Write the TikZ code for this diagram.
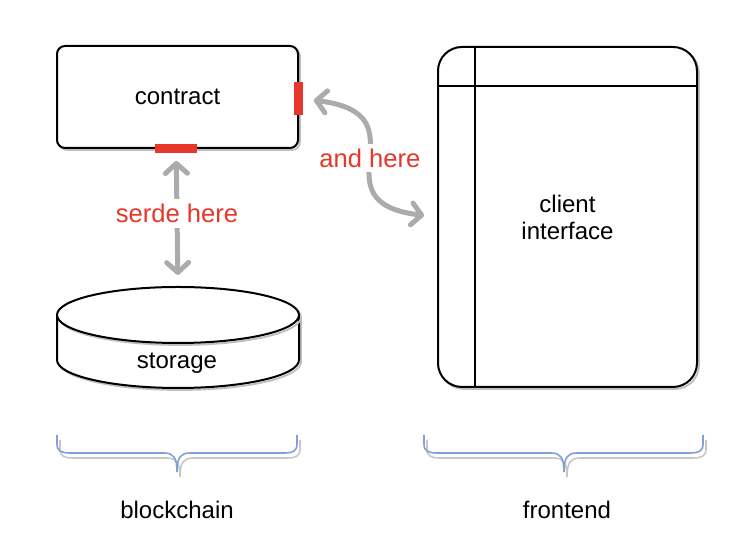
\documentclass[tikz,border=0pt]{standalone}
\usepackage{fontspec}
\setmainfont{Liberation Sans}
\usepackage{xcolor}
\usepackage{tikz}
\usetikzlibrary{positioning,arrows.meta}
\definecolor{inkred}{HTML}{E6372A}
\definecolor{inkgray}{HTML}{ABABAB}
\definecolor{inkblue}{HTML}{7FA0DA}

\begin{document}
\begin{tikzpicture}[
  x=0.5pt, y=-0.5pt,
  every node/.style={font=\fontsize{12}{13.5}\selectfont},
  sketch/.style={draw=black, line width=1pt, fill=white,
                 preaction={draw=black!25, line width=0.9pt,
                            transform canvas={shift={(1pt,-1pt)}}}},
  box/.style={sketch, rectangle, rounded corners=4pt, align=center},
  port/.style={rectangle, fill=inkred, inner sep=0pt},
  link/.style={{Straight Barb[length=5pt,width=11pt,round]}-{Straight Barb[length=5pt,width=11pt,round]},
               line width=2.5pt, draw=inkgray, line cap=round},
  lbl/.style={fill=white, text=inkred, inner sep=2.5pt,
              font=\fontsize{12.8}{14}\selectfont},
  bracket/.style={draw=inkblue, line width=0.8pt,
                  preaction={draw=black!22, line width=0.8pt,
                             transform canvas={shift={(1.5pt,-2.5pt)}}}}
]
\useasboundingbox (0,0) rectangle (752,560);

\node[box, minimum width=120.5pt, minimum height=51pt]            (contract) at (177.5,97)  {contract};
\node[box, rounded corners=12pt,
      minimum width=129.5pt, minimum height=170pt]               (client)   at (567.5,217) {client\\interface};
\node[port, minimum width=4.5pt, minimum height=16.5pt]           (sideport) at ([xshift=-0.5pt,yshift=-1pt]contract.east) {};
\node[port, minimum width=21pt, minimum height=4.5pt]             (baseport) at ([xshift=-0.7pt]contract.south) {};

\draw[sketch] (57,315) -- (57,360) arc[start angle=180, end angle=0, x radius=121, y radius=28] -- (299,315);
\draw[sketch] (178,315) ellipse[x radius=121, y radius=28];
\coordinate (stotop) at (178,287);
\node (storage) at (177,363) {storage};

\draw[line width=1pt] ([xshift=19pt]client.north west) -- ([xshift=19pt]client.south west);
\draw[line width=1pt] ([yshift=-20pt]client.north west) -- ([yshift=-20pt]client.north east);

\draw[link, shorten <=3.5pt, shorten >=6pt] (baseport) -- node[lbl, pos=0.45]{serde here} (stotop);
\draw[link, shorten <=5.5pt, shorten >=6.5pt] (sideport.east) .. controls +(125,15) and +(-125,-15) .. node[lbl]{and here} (client.west);

\draw[bracket] (57,435) -- (57,444) .. controls (57,451) and (61,453) .. (70,453) -- (164,453)
  .. controls (173,453) and (177,457) .. (177,472) .. controls (177,457) and (181,453) .. (190,453)
  -- (284,453) .. controls (293,453) and (297,451) .. (297,444) -- (297,435);
\draw[bracket] (424,435) -- (424,444) .. controls (424,451) and (428,453) .. (437,453) -- (551,453)
  .. controls (560,453) and (564,457) .. (564,472) .. controls (564,457) and (568,453) .. (577,453)
  -- (690,453) .. controls (699,453) and (703,451) .. (703,444) -- (703,435);

\node (chain) at (177,510) {blockchain};
\node (front) at (567,510) {frontend};

\end{tikzpicture}
\end{document}
